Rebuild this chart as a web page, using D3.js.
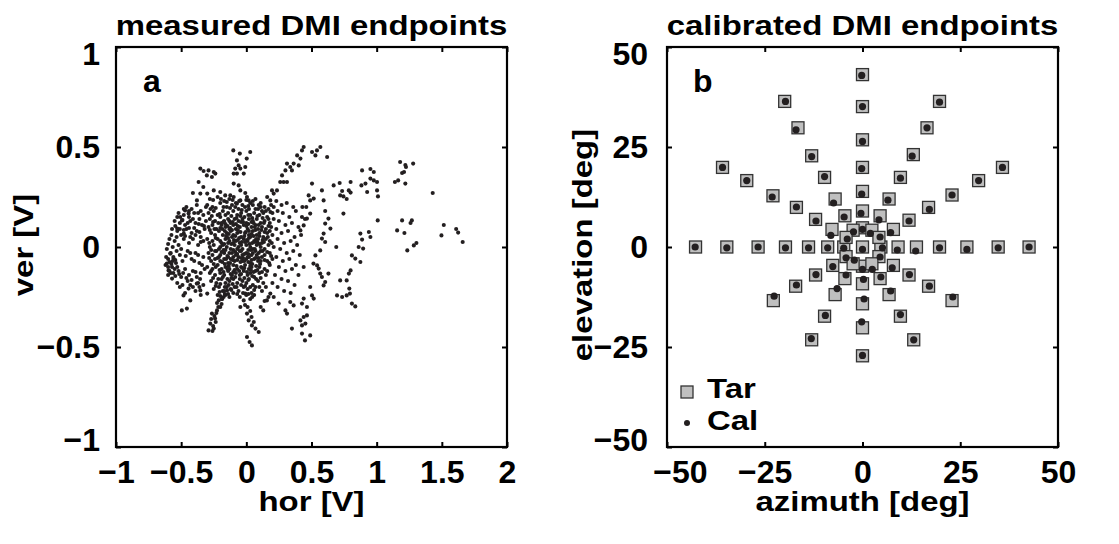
<!DOCTYPE html>
<html>
<head>
<meta charset="utf-8">
<script src="https://cdn.jsdelivr.net/npm/d3@7"></script>
<style>
  body { margin: 0; background: #fff; }
  text { font-family: "Liberation Sans", Arial, sans-serif; font-weight: bold; fill: #000; }
</style>
</head>
<body>
<svg id="fig" width="1119" height="544"></svg>
<script>
// panel a: measured DMI endpoints [hor, ver] in volts
const measuredSparse = [
  [1.43,0.27],[1.515,0.11],[1.497,0.058],[1.61,0.09],[1.625,0.072],[1.66,0.025],
  [1.18,0.425],[1.22,0.41],[1.28,0.417],[1.225,0.4],[1.195,0.37],[1.21,0.375],[1.14,0.325],[1.165,0.333],[1.22,0.317],
  [1.157,0.083],[1.195,0.133],[1.213,0.07],[1.27,0.133],[1.26,0.12],[1.235,-0.017],[1.285,0.008],[1.305,0.02],
  [0.952,0.39],[0.888,0.383],[0.978,0.375],[0.952,0.342],[1.003,0.325],[0.978,0.333],[0.914,0.317],[0.927,0.275],[1.003,0.283],[1.01,0.253],[0.883,0.308],[1.008,0.133],
  [0.8,0.325],[0.716,0.32],[0.67,0.308],[0.735,0.28],[0.72,0.258],[0.745,0.253],[0.786,0.283],[0.8,0.272],[0.77,0.24],[0.745,0.167],
  [0.875,0.067],[0.888,0.037],[0.94,0.075],[0.952,0.05],[0.862,0.0],[0.896,-0.008],[0.875,-0.075],[0.81,-0.042],[0.836,-0.058],[0.8,-0.117],
  [0.787,-0.133],[0.77,-0.167],[0.79,-0.208],[0.795,-0.233],[0.77,-0.242],[0.81,-0.283],[0.836,-0.297],[0.696,-0.242],[0.735,-0.25],[0.72,-0.167],[0.69,0.0],
  [0.63,0.142],[0.605,0.117],[0.645,0.092],[0.593,0.067],[0.605,0.025],[0.58,0.042],[0.567,-0.017],[0.53,-0.042],[0.515,-0.083],[0.543,-0.092],
  [0.555,-0.108],[0.567,-0.133],[0.58,-0.15],[0.605,-0.175],[0.593,-0.192],[0.63,-0.133],[0.605,0.18],[0.593,0.233],[0.58,0.283],[0.504,0.317],
  [0.478,0.258],[0.517,0.242],[0.49,0.233],[0.46,0.2],[0.49,0.167],[0.465,0.142],[0.427,0.15],[0.44,0.108],[0.415,0.083],
  [0.49,-0.2],[0.504,-0.242],[0.517,-0.258],[0.44,-0.258],[0.427,-0.283],[0.465,-0.3],[0.44,-0.35],[0.415,-0.367],[0.427,-0.392],[0.453,-0.383],
  [0.465,-0.342],[0.35,-0.408],[0.427,-0.433],[0.45,-0.467],[0.49,-0.442],
  [0.568,0.5],[0.542,0.483],[0.504,0.475],[0.53,0.458],[0.62,0.45],[0.44,0.5],[0.427,0.483],[0.39,0.458],[0.415,0.442],[0.363,0.417],
  [0.402,0.408],[0.312,0.417],[0.337,0.4],[0.35,0.383],[0.3,0.383],[0.274,0.358],[0.286,0.325],[0.312,0.325],[0.26,0.325],[0.235,0.283],
  [0.21,0.267],[0.197,0.283],[0.16,0.25],[0.184,0.233],
  [-0.1,0.483],[-0.05,0.467],[0.003,0.442],[0.03,0.475],[-0.072,0.433],[-0.059,0.408],[-0.085,0.392],[-0.046,0.392],[-0.008,0.4],[-0.097,0.367],
  [-0.072,0.367],[-0.02,0.367],[-0.097,0.317],[-0.059,0.308],[-0.046,0.283],[-0.008,0.27],[0.005,0.25],[0.018,0.233],[-0.046,0.233],[-0.072,0.217],
  [-0.353,0.392],[-0.328,0.38],[-0.29,0.383],[-0.25,0.375],[-0.303,0.358],[-0.264,0.35],[-0.238,0.367],[-0.366,0.325],[-0.33,0.3],[-0.41,0.27],
  [-0.353,0.267],[-0.3,0.267],[-0.25,0.283],[-0.2,0.275],[-0.162,0.258],[-0.123,0.258],[-0.097,0.25],[-0.379,0.233],
  [-0.47,0.183],[-0.443,0.167],[-0.507,0.15],[-0.494,0.133],[-0.53,0.092],[-0.48,0.067],[-0.584,-0.033],[-0.61,-0.083],[-0.597,-0.117],[-0.57,-0.158],[-0.558,-0.058],
  [-0.495,-0.317],[-0.456,-0.308],[-0.482,-0.242],[-0.43,-0.267],[-0.443,-0.208],[-0.38,-0.183],[-0.353,-0.217],[-0.3,-0.233],[-0.29,-0.417],[-0.25,-0.408],
  [-0.277,-0.383],[-0.24,-0.358],[-0.264,-0.333],[-0.225,-0.317],[-0.2,-0.3],[-0.212,-0.267],[-0.174,-0.25],[-0.148,-0.217],
  [0.005,-0.333],[0.018,-0.367],[0.043,-0.392],[0.07,-0.408],[0.095,-0.425],[0.005,-0.45],[0.025,-0.475],[0.043,-0.492],[0.057,-0.375],[-0.02,-0.267],
  [-0.046,-0.3],[-0.008,-0.233],[0.13,-0.317],[0.158,-0.267],[0.184,-0.233],[0.248,-0.283],[0.3,-0.317],[0.312,-0.333],[0.337,-0.275],[0.363,-0.292],
  [-0.255,-0.395],[-0.27,-0.36],[-0.245,-0.345],[-0.23,-0.33],[-0.215,-0.3],[-0.19,-0.285],[-0.185,-0.26],[-0.165,-0.235],[-0.235,-0.375],[-0.26,-0.42],
  [-0.225,-0.28],[-0.2,-0.245],[0.1,-0.2],[0.12,-0.22],[0.15,-0.2],[0.2,-0.18],[0.17,-0.25],[0.14,-0.27],[0.11,-0.3],
  [0.01,-0.3],[0.03,-0.32],[-0.01,-0.29],[0.04,-0.35]
];

// left lobe of the cloud
const measuredLeft = [
  [-0.46,0.2],[-0.42,0.19],[-0.38,0.21],[-0.35,0.18],[-0.31,0.2],[-0.52,0.17],[-0.48,0.16],[-0.44,0.15],[-0.4,0.17],[-0.36,0.14],
  [-0.33,0.16],[-0.55,0.13],[-0.51,0.12],[-0.47,0.11],[-0.43,0.13],[-0.39,0.12],[-0.34,0.11],[-0.31,0.13],
  [-0.57,0.09],[-0.53,0.08],[-0.5,0.06],[-0.46,0.09],[-0.42,0.07],[-0.38,0.08],[-0.35,0.05],[-0.32,0.09],[-0.59,0.04],[-0.55,0.03],
  [-0.52,0.01],[-0.48,0.04],[-0.44,0.02],[-0.41,0.04],[-0.37,0.01],[-0.33,0.03],
  [-0.61,-0.01],[-0.58,-0.03],[-0.6,-0.06],[-0.56,-0.05],[-0.54,-0.08],[-0.57,-0.1],[-0.51,-0.04],[-0.49,-0.07],[-0.45,-0.02],[-0.42,-0.06],
  [-0.39,-0.03],[-0.36,-0.08],[-0.33,-0.05],[-0.62,-0.09],[-0.59,-0.12],[-0.55,-0.11],
  [-0.6,-0.14],[-0.56,-0.13],[-0.52,-0.12],[-0.5,-0.15],[-0.47,-0.11],[-0.44,-0.14],[-0.41,-0.12],[-0.38,-0.15],[-0.35,-0.13],[-0.32,-0.11],
  [-0.53,-0.18],[-0.49,-0.19],[-0.45,-0.17],[-0.41,-0.2],[-0.37,-0.18],[-0.33,-0.19],[-0.47,-0.23],[-0.39,-0.22],[-0.35,-0.24],
  [-0.565,-0.07],[-0.575,-0.085],[-0.545,-0.065],[-0.59,-0.075],[-0.53,-0.1],
  [-0.48,0.19],[-0.44,0.18],[-0.41,0.14],[-0.37,0.17],[-0.53,0.15],[-0.49,0.135],[-0.45,0.12],[-0.365,0.115],[-0.325,0.105],
  [-0.545,0.105],[-0.51,0.09],[-0.48,0.085],[-0.44,0.095],[-0.4,0.095],[-0.36,0.075],[-0.575,0.06],[-0.535,0.05],[-0.47,0.055],[-0.43,0.05],
  [-0.39,0.06],[-0.35,0.025],[-0.6,0.015],[-0.565,0.0],[-0.535,-0.02],[-0.5,-0.01],[-0.465,-0.045],[-0.43,-0.03],[-0.4,-0.07],[-0.37,-0.04],
  [-0.34,-0.09],[-0.615,-0.05],[-0.6,-0.1],[-0.58,-0.13],[-0.545,-0.145],[-0.515,-0.135],[-0.485,-0.13],[-0.46,-0.155],[-0.42,-0.165],[-0.39,-0.125],
  [-0.355,-0.16],[-0.51,-0.2],[-0.43,-0.19],[-0.36,-0.2]
];

// dense core of the cloud
const measuredCore = [
  [-0.28,0.24],[-0.22,0.25],[-0.17,0.23],[-0.13,0.24],[-0.08,0.22],[-0.03,0.21],[0.03,0.22],[0.07,0.24],[0.11,0.22],[0.14,0.2],[0.19,0.21],
  [-0.3,0.21],[-0.26,0.2],[-0.2,0.22],[-0.15,0.2],[-0.11,0.21],[-0.06,0.19],[-0.01,0.2],[0.02,0.19],[0.05,0.21],[0.09,0.19],[0.12,0.18],[0.17,0.19],[0.21,0.2],
  [-0.29,0.17],[-0.25,0.18],[-0.22,0.16],[-0.18,0.18],[-0.14,0.17],[-0.1,0.18],[-0.07,0.16],[-0.04,0.17],[0.0,0.18],[0.03,0.16],[0.06,0.17],[0.1,0.16],[0.13,0.17],[0.16,0.15],[0.2,0.17],
  [-0.28,0.14],[-0.24,0.13],[-0.2,0.15],[-0.17,0.13],[-0.14,0.14],[-0.12,0.12],[-0.09,0.14],[-0.06,0.13],[-0.03,0.14],[0.0,0.12],[0.02,0.14],[0.05,0.13],[0.08,0.14],[0.11,0.12],[0.14,0.13],[0.18,0.12],[0.21,0.14],
  [-0.29,0.1],[-0.26,0.11],[-0.23,0.09],[-0.19,0.11],[-0.16,0.1],[-0.13,0.09],[-0.1,0.11],[-0.08,0.09],[-0.05,0.1],[-0.02,0.11],[0.01,0.09],[0.04,0.1],[0.07,0.11],[0.09,0.09],[0.12,0.1],[0.15,0.09],[0.19,0.1],
  [-0.27,0.07],[-0.24,0.06],[-0.21,0.08],[-0.18,0.06],[-0.15,0.07],[-0.12,0.08],[-0.1,0.06],[-0.07,0.07],[-0.04,0.05],[-0.01,0.07],[0.02,0.06],[0.05,0.08],[0.08,0.06],[0.1,0.07],[0.13,0.05],[0.16,0.07],[0.2,0.06],
  [-0.3,0.04],[-0.26,0.03],[-0.22,0.04],[-0.19,0.02],[-0.16,0.04],[-0.13,0.03],[-0.11,0.05],[-0.08,0.03],[-0.05,0.02],[-0.02,0.04],[0.01,0.03],[0.03,0.05],[0.06,0.03],[0.09,0.04],[0.12,0.02],[0.15,0.04],[0.18,0.03],
  [-0.28,0.0],[-0.25,0.01],[-0.21,-0.01],[-0.18,0.01],[-0.15,0.0],[-0.12,-0.01],[-0.09,0.01],[-0.06,0.0],[-0.03,-0.01],[0.0,0.01],[0.03,0.0],[0.05,-0.01],[0.08,0.01],[0.11,0.0],[0.14,-0.01],[0.17,0.01],[0.21,0.0],
  [-0.29,-0.03],[-0.26,-0.04],[-0.23,-0.02],[-0.2,-0.04],[-0.17,-0.03],[-0.14,-0.05],[-0.11,-0.03],[-0.08,-0.04],[-0.05,-0.02],[-0.03,-0.04],[0.0,-0.03],[0.02,-0.05],[0.05,-0.03],[0.08,-0.04],[0.11,-0.02],[0.14,-0.04],[0.18,-0.03],
  [-0.27,-0.07],[-0.24,-0.06],[-0.2,-0.07],[-0.17,-0.06],[-0.14,-0.08],[-0.12,-0.06],[-0.09,-0.07],[-0.06,-0.05],[-0.03,-0.07],[0.0,-0.06],[0.03,-0.08],[0.06,-0.06],[0.09,-0.07],[0.12,-0.05],[0.16,-0.07],[0.2,-0.06],
  [-0.3,-0.1],[-0.26,-0.11],[-0.22,-0.09],[-0.19,-0.11],[-0.16,-0.1],[-0.13,-0.11],[-0.1,-0.09],[-0.07,-0.11],[-0.04,-0.1],[-0.01,-0.09],[0.02,-0.11],[0.04,-0.1],[0.07,-0.12],[0.1,-0.1],[0.14,-0.11],[0.18,-0.09],
  [-0.28,-0.13],[-0.24,-0.14],[-0.2,-0.13],[-0.17,-0.14],[-0.14,-0.12],[-0.11,-0.14],[-0.08,-0.13],[-0.05,-0.14],[-0.02,-0.12],[0.01,-0.14],[0.03,-0.13],[0.06,-0.15],[0.1,-0.13],[0.15,-0.14],
  [-0.27,-0.17],[-0.23,-0.18],[-0.19,-0.16],[-0.16,-0.18],[-0.13,-0.17],[-0.1,-0.16],[-0.07,-0.18],[-0.03,-0.17],[0.0,-0.18],[0.02,-0.16],[0.05,-0.19],[0.09,-0.17],[0.13,-0.18],
  [-0.25,-0.21],[-0.21,-0.2],[-0.18,-0.22],[-0.15,-0.2],[-0.12,-0.21],[-0.09,-0.2],[-0.06,-0.22],[-0.02,-0.2],[0.01,-0.21],[0.04,-0.23],[0.07,-0.2],
  [-0.22,-0.24],[-0.19,-0.26],[-0.16,-0.24],[-0.13,-0.25],[-0.1,-0.23],[-0.05,-0.25],[0.0,-0.24],[0.03,-0.26],[0.06,-0.24],
  [-0.185,0.09],[-0.155,0.055],[-0.125,0.095],[-0.095,0.035],[-0.065,0.085],[-0.035,0.025],[-0.005,0.075],[0.025,0.015],[0.055,0.055],[0.085,0.025],
  [0.115,0.085],[-0.175,-0.015],[-0.145,-0.045],[-0.115,0.015],[-0.085,-0.025],[-0.055,0.045],[-0.025,-0.055],[0.005,0.035],[0.035,-0.015],[0.065,0.025],
  [0.095,-0.055],[0.125,0.035],[-0.165,-0.085],[-0.135,-0.095],[-0.105,-0.065],[-0.075,-0.095],[-0.045,-0.075],[-0.015,-0.105],[0.015,-0.075],[0.045,-0.085],
  [0.075,-0.095],[-0.19,0.12],[-0.16,0.115],[-0.13,0.13],[-0.08,0.115],[-0.04,0.125],[0.0,0.105],[0.04,0.125],[0.065,0.1],[-0.2,0.0],
  [-0.14,0.02],[-0.07,-0.01],[0.015,-0.035],[0.07,-0.02],[0.11,-0.07],[-0.21,-0.05],[-0.1,-0.125],[-0.04,-0.135],[0.035,-0.115]
];

// more points read in the dark middle of the cloud
const measuredCoreFill = [
  [-0.255,0.235],[-0.195,0.24],[-0.15,0.225],[-0.105,0.235],[-0.055,0.23],[0.0,0.235],[0.05,0.23],[0.095,0.21],
  [-0.275,0.19],[-0.235,0.195],[-0.175,0.2],[-0.125,0.195],[-0.085,0.2],[-0.035,0.185],[0.015,0.205],[0.07,0.19],[0.11,0.2],[0.15,0.18],[0.185,0.175],
  [-0.265,0.155],[-0.205,0.165],[-0.16,0.16],[-0.115,0.155],[-0.075,0.145],[-0.045,0.155],[-0.015,0.15],[0.015,0.16],[0.045,0.145],[0.085,0.155],[0.125,0.145],[0.17,0.14],
  [-0.255,0.125],[-0.215,0.12],[-0.175,0.125],[-0.145,0.105],[-0.105,0.125],[-0.065,0.105],[-0.025,0.125],[0.015,0.115],[0.055,0.12],[0.095,0.11],[0.135,0.12],[0.17,0.105],
  [-0.28,0.085],[-0.245,0.09],[-0.2,0.095],[-0.165,0.08],[-0.135,0.065],[-0.11,0.085],[-0.085,0.055],[-0.045,0.075],[-0.015,0.055],[0.02,0.08],[0.04,0.065],[0.07,0.085],[0.1,0.055],[0.14,0.075],[0.18,0.08],
  [-0.285,0.02],[-0.235,0.045],[-0.2,0.03],[-0.17,0.015],[-0.14,0.045],[-0.1,0.02],[-0.065,0.035],[-0.04,0.01],[-0.01,0.025],[0.02,0.045],[0.045,0.02],[0.075,0.04],[0.1,0.015],[0.135,0.025],[0.165,0.05],[0.195,0.02],
  [-0.27,-0.015],[-0.24,-0.02],[-0.19,-0.025],[-0.16,-0.015],[-0.13,-0.03],[-0.1,-0.015],[-0.07,-0.035],[-0.04,-0.02],[-0.015,-0.035],[0.015,-0.015],[0.04,-0.04],[0.065,-0.01],[0.095,-0.03],[0.125,-0.02],[0.16,-0.025],[0.19,-0.045],
  [-0.285,-0.055],[-0.25,-0.085],[-0.22,-0.055],[-0.185,-0.075],[-0.155,-0.06],[-0.125,-0.08],[-0.1,-0.05],[-0.07,-0.065],[-0.04,-0.055],[-0.015,-0.07],[0.01,-0.05],[0.04,-0.065],[0.07,-0.055],[0.105,-0.085],[0.14,-0.065],[0.175,-0.08],
  [-0.27,-0.12],[-0.235,-0.1],[-0.205,-0.115],[-0.175,-0.125],[-0.145,-0.11],[-0.12,-0.135],[-0.09,-0.115],[-0.055,-0.12],[-0.03,-0.105],[0.005,-0.125],[0.03,-0.095],[0.055,-0.125],[0.085,-0.115],[0.12,-0.125],[0.16,-0.12],
  [-0.255,-0.155],[-0.215,-0.16],[-0.18,-0.15],[-0.145,-0.16],[-0.115,-0.155],[-0.085,-0.15],[-0.05,-0.16],[-0.015,-0.155],[0.015,-0.165],[0.045,-0.145],[0.075,-0.16],[0.11,-0.155],
  [-0.235,-0.195],[-0.2,-0.185],[-0.165,-0.2],[-0.135,-0.19],[-0.105,-0.185],[-0.075,-0.2],[-0.04,-0.19],[-0.01,-0.195],[0.03,-0.2],[0.06,-0.215],
  [-0.205,-0.225],[-0.17,-0.22],[-0.14,-0.235],[-0.115,-0.215],[-0.07,-0.235],[-0.025,-0.23],[0.015,-0.235],[0.045,-0.25]
];

// right flank of the cloud
const measuredRight = [
  [0.23,0.23],[0.27,0.21],[0.31,0.22],[0.36,0.2],[0.24,0.18],[0.28,0.17],[0.33,0.15],[0.38,0.18],[0.25,0.13],[0.3,0.11],
  [0.35,0.12],[0.4,0.1],[0.23,0.09],[0.27,0.07],[0.32,0.08],[0.37,0.05],[0.24,0.04],[0.29,0.02],[0.34,0.03],[0.39,0.01],
  [0.26,-0.01],[0.31,-0.03],[0.36,-0.02],[0.41,-0.04],[0.23,-0.05],[0.28,-0.07],[0.33,-0.06],[0.38,-0.09],[0.25,-0.1],[0.3,-0.12],
  [0.35,-0.11],[0.4,-0.14],[0.22,-0.14],[0.27,-0.16],[0.32,-0.17],[0.37,-0.19],[0.24,-0.2],[0.29,-0.22],[0.34,-0.23],[0.21,-0.25],
  [0.42,0.06],[0.44,-0.1],[0.43,0.2],[0.45,0.14]
];

// panel b: targets (Tar) and calibrated endpoints (Cal), azimuth/elevation in deg
const tarAz = [
  -42.7,-34.7,-26.7,-19.7,-13.8,-8.9,-4.8,0,4.7,9.1,13.8,19.7,26.7,34.7,42.6,
  0,0,0,0,0,0,0, 0,0,0,0,0,
  -19.9,-16.5,-13.0,-9.7,-7.0,-4.5,-2.4,
  -35.8,-29.6,-22.9,-16.9,-12.0,-7.8,-4.2,
  19.7,16.5,13.0,9.7,6.8,4.5,2.4,
  35.8,29.7,22.9,16.9,11.9,7.9,4.2,
  -22.8,-17.1,-12.0,-7.6,-4.2,
  -13.0,-9.7,-7.0,-4.5,-2.4,
  22.9,16.9,11.9,7.9,4.2,
  13.1,9.7,6.8,4.5,2.4
];
const tarEl = [
  0,0,0,0,0,0,0,0,0,0,0,0,0,0,0,
  43.1,35.1,26.8,19.9,13.9,9.0,4.8, -4.8,-9.2,-14.2,-20.2,-27.2,
  36.4,29.8,22.8,17.4,12.0,7.8,4.2,
  19.9,16.6,12.8,9.9,6.9,4.4,2.4,
  36.4,29.8,23.1,17.4,12.0,7.8,4.2,
  19.9,16.6,13.0,9.9,6.7,4.4,2.4,
  -13.4,-9.8,-7.0,-4.6,-2.4,
  -23.2,-17.3,-11.9,-7.9,-4.2,
  -13.4,-9.8,-7.0,-4.6,-2.4,
  -23.2,-17.3,-11.9,-7.9,-4.2
];
const calAz = [
  -42.8,-34.7,-26.7,-19.7,-13.8,-8.9,-4.8,0,5.1,8.9,13.6,19.7,26.7,34.7,42.6,
  -0.2,0,0,-0.2,-0.2,-0.4,0, 0,0.25,0.4,-0.2,0,
  -19.7,-17.0,-13.0,-9.7,-7.4,-4.7,-2.3,
  -35.8,-29.6,-23.1,-16.9,-11.9,-8.1,-3.9,
  19.7,16.5,12.7,9.7,6.5,4.2,2.0,
  35.8,29.7,22.9,17.1,11.9,7.2,4.5,
  -22.6,-16.9,-11.9,-7.6,-4.2,
  -13.1,-9.5,-6.5,-4.2,-2.1,
  23.1,17.1,12.0,7.6,4.5,
  13.1,9.7,7.2,4.7,2.5
];
const calEl = [
  0,-0.2,0,-0.2,-0.2,-0.2,-0.3,-0.6,-0.2,-0.75,-1.0,-0.2,-0.6,-0.2,0,
  42.9,35.1,26.4,19.6,13.2,8.4,4.4, -5.6,-8.1,-13.0,-18.7,-27.1,
  36.4,29.3,22.6,17.6,11.0,7.5,3.8,
  19.9,16.6,12.5,10.0,6.5,2.9,2.0,
  36.2,29.8,22.7,17.2,11.7,6.8,3.4,
  19.9,16.6,13.0,9.4,6.5,3.6,2.5,
  -12.3,-9.5,-6.9,-4.9,-2.7,
  -22.9,-17.1,-10.4,-7.0,-3.3,
  -12.5,-9.8,-6.9,-5.2,-2.5,
  -23.2,-16.9,-11.0,-7.5,-5.6
];

const ticksA_x = [-1, -0.5, 0, 0.5, 1, 1.5, 2];
const ticksA_y = [-1, -0.5, 0, 0.5, 1];
const ticksB = [-50, -25, 0, 25, 50];

const svg = d3.select("#fig");
const fmt = d => d3.format("")(d);
const WIDE = 1.22;   // titles, axis names and legend are set in a wide bold face

function drawPanel(cfg) {
  const g = svg.append("g").attr("transform", `translate(${cfg.left},${cfg.top})`);
  const x = d3.scaleLinear().domain(cfg.xDomain).range([0, cfg.w]);
  const y = d3.scaleLinear().domain(cfg.yDomain).range([cfg.h, 0]);

  // ticks pointing inward on all four sides
  const xb = g.append("g").attr("transform", `translate(0,${cfg.h})`)
    .call(d3.axisBottom(x).tickValues(cfg.xTicks).tickFormat(fmt).tickSizeInner(-5).tickSizeOuter(0).tickPadding(13));
  const yl = g.append("g")
    .call(d3.axisLeft(y).tickValues(cfg.yTicks).tickFormat(fmt).tickSizeInner(-5).tickSizeOuter(0).tickPadding(cfg.yPad));
  g.append("g").call(d3.axisTop(x).tickValues(cfg.xTicks).tickFormat("").tickSizeInner(-5).tickSizeOuter(0));
  g.append("g").attr("transform", `translate(${cfg.w},0)`)
    .call(d3.axisRight(y).tickValues(cfg.yTicks).tickFormat("").tickSizeInner(-5).tickSizeOuter(0));
  g.selectAll(".domain").remove();
  g.selectAll(".tick line").attr("stroke", "#000").attr("stroke-width", 2);
  g.selectAll(".tick text").style("font-size", "32px").attr("fill", "#000")
    .style("font-family", "'Liberation Sans', Arial, sans-serif").style("font-weight", "bold");
  // end labels of the y axis sit a little inside, as in the original
  yl.selectAll(".tick text").attr("dy", d => d === cfg.yDomain[1] ? "0.55em" : d === cfg.yDomain[0] ? "0.1em" : "0.34em");
  if (cfg.firstXShift) xb.selectAll(".tick text").filter(d => d === cfg.xDomain[0]).attr("dx", cfg.firstXShift);

  const plot = g.append("g");
  cfg.drawMarks(plot, x, y);

  g.append("rect").attr("width", cfg.w).attr("height", cfg.h)
    .attr("fill", "none").attr("stroke", "#000").attr("stroke-width", 2.2);

  g.append("text").attr("transform", `translate(${cfg.w / 2},-12) scale(${WIDE},1)`).attr("text-anchor", "middle")
    .style("font-size", "27px").text(cfg.title);
  g.append("text").attr("transform", `translate(${cfg.w / 2},${cfg.h + 64}) scale(${WIDE},1)`).attr("text-anchor", "middle")
    .style("font-size", "27px").text(cfg.xLabel);
  g.append("text").attr("transform", `translate(${cfg.yLabelX},${cfg.h / 2 - 2}) rotate(-90) scale(${WIDE},1)`)
    .attr("text-anchor", "middle").style("font-size", "27px").text(cfg.yLabel);
  g.append("text").attr("x", cfg.tagX).attr("y", 45).style("font-size", "32px").text(cfg.tag);
}

drawPanel({
  left: 116, top: 47, w: 391, h: 400,
  xDomain: [-1, 2], yDomain: [-1, 1], xTicks: ticksA_x, yTicks: ticksA_y, yPad: 16,
  title: "measured DMI endpoints", xLabel: "hor [V]", yLabel: "ver [V]", yLabelX: -83, tag: "a", tagX: 27,
  drawMarks: (p, x, y) => {
    const pts = measuredSparse.concat(measuredLeft, measuredCore, measuredCoreFill, measuredRight);
    p.selectAll("circle").data(pts).enter().append("circle")
      .attr("cx", d => x(d[0])).attr("cy", d => y(d[1])).attr("r", 2.05).attr("fill", "#231f20");
  }
});

drawPanel({
  left: 667, top: 47, w: 391, h: 400,
  xDomain: [-50, 50], yDomain: [-50, 50], xTicks: ticksB, yTicks: ticksB, yPad: 19, firstXShift: 13,
  title: "calibrated DMI endpoints", xLabel: "azimuth [deg]", yLabel: "elevation [deg]", yLabelX: -75, tag: "b", tagX: 26,
  drawMarks: (p, x, y) => {
    const sq = 12;
    p.selectAll("rect.tar").data(d3.range(tarAz.length)).enter().append("rect").attr("class", "tar")
      .attr("x", i => x(tarAz[i]) - sq / 2).attr("y", i => y(tarEl[i]) - sq / 2)
      .attr("width", sq).attr("height", sq)
      .attr("fill", "#bfbfbf").attr("stroke", "#333").attr("stroke-width", 1.3);
    p.selectAll("circle.cal").data(d3.range(calAz.length)).enter().append("circle").attr("class", "cal")
      .attr("cx", i => x(calAz[i])).attr("cy", i => y(calEl[i])).attr("r", 3.6).attr("fill", "#231f20");

    // legend
    const lg = p.append("g").attr("transform", "translate(20,345)");
    lg.append("rect").attr("x", -6).attr("y", -6).attr("width", 12).attr("height", 12)
      .attr("fill", "#bfbfbf").attr("stroke", "#333").attr("stroke-width", 1.3);
    lg.append("circle").attr("cx", 0).attr("cy", 31).attr("r", 3).attr("fill", "#231f20");
    lg.append("text").attr("transform", `translate(20,6) scale(${WIDE},1)`).style("font-size", "27px").text("Tar");
    lg.append("text").attr("transform", `translate(20,38) scale(${WIDE},1)`).style("font-size", "27px").text("Cal");
  }
});
</script>
</body>
</html>
